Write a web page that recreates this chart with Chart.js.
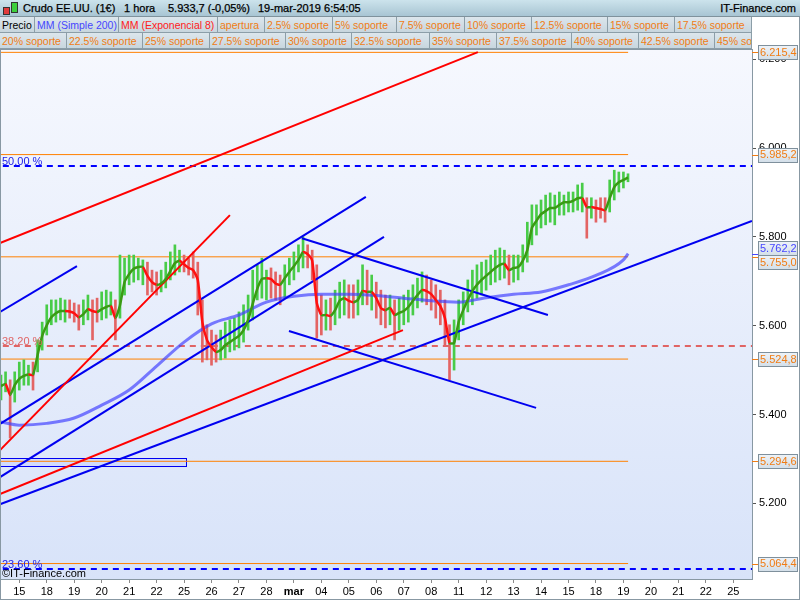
<!DOCTYPE html>
<html>
<head>
<meta charset="utf-8">
<script src="https://cdn.jsdelivr.net/npm/chart.js@4.4.1/dist/chart.umd.min.js"></script>
<style>
  body { margin: 0; background: #fff; font-family: "Liberation Sans", Arial, sans-serif; }
  #wrap { position: relative; width: 800px; height: 600px; overflow: hidden; }
  #chart { position: absolute; left: 0; top: 0; }
  #row1 { position: absolute; left: 0; top: 0; width: 800px; height: 17px; box-sizing: border-box;
          background: linear-gradient(#cce3ec, #a8c5d3); border-bottom: 1px solid #7f929c; font-size: 11px; }
  #row1 span { position: absolute; top: 2px; white-space: nowrap; color: #000; -webkit-text-stroke: 0.25px #000; }
  .cell { position: absolute; height: 16px; box-sizing: border-box; font-size: 10.5px; line-height: 14px;
          border-right: 1px solid #8c9ea8; border-bottom: 1px solid #8c9ea8;
          background: linear-gradient(#dce6ec, #c8d6de); padding: 1px 0 0 2px;
          white-space: nowrap; overflow: hidden; color: #f07c14; }
  .candle { position: absolute; width: 5px; border: 1px solid #333; }
</style>
</head>
<body>
<div id="wrap">
  <canvas id="chart" width="800" height="600"></canvas>
  <div id="row1">
    <div class="candle" style="left:3px;top:7px;height:6px;background:#e23b3b"></div>
    <div class="candle" style="left:11px;top:2px;height:9px;background:#3ccf3c"></div>
    <span style="left:23px">Crudo EE.UU. (1€)</span>
    <span style="left:124px">1 hora</span>
    <span style="left:168px">5.933,7 (-0,05%)</span>
    <span style="left:258px">19-mar-2019 6:54:05</span>
    <span style="right:4px">IT-Finance.com</span>
  </div>
  <div id="legend"></div>
</div>
<script>
// header cells: [left, right, text, colour]
const legendRow1 = [
  [0, 35, 'Precio', '#000'], [35, 119, 'MM (Simple 200)', '#4646ff'], [119, 218, 'MM (Exponencial 8)', '#ff2020'],
  [218, 265, 'apertura'], [265, 333, '2.5% soporte'], [333, 397, '5% soporte'], [397, 465, '7.5% soporte'],
  [465, 532, '10% soporte'], [532, 608, '12.5% soporte'], [608, 675, '15% soporte'], [675, 752, '17.5% soporte']
];
const legendRow2 = [
  [0, 67, '20% soporte'], [67, 143, '22.5% soporte'], [143, 210, '25% soporte'], [210, 286, '27.5% soporte'],
  [286, 352, '30% soporte'], [352, 430, '32.5% soporte'], [430, 497, '35% soporte'], [497, 572, '37.5% soporte'],
  [572, 639, '40% soporte'], [639, 715, '42.5% soporte'], [715, 752, '45% soporte']
];

// trading days on the time axis (index 0 = 15 feb)
const dayLabels = ['15','18','19','20','21','22','25','26','27','28','mar','04','05','06','07','08',
                   '11','12','13','14','15','18','19','20','21','22','25'];
const yTicks = [5200, 5400, 5600, 5800, 6000, 6200];

// price, sampled every 4 hours starting 14 feb afternoon
const ema = [
  5464, 5469, 5444, 5466,
  5480, 5487, 5490, 5489, 5534, 5577,
  5601, 5619, 5628, 5633, 5633, 5632,
  5628, 5619, 5626, 5637, 5633, 5631,
  5637, 5642, 5645, 5617, 5646, 5698,
  5716, 5728, 5732, 5732, 5712, 5698,
  5692, 5695, 5705, 5723, 5741, 5746,
  5738, 5730, 5725, 5703, 5608, 5568,
  5552, 5541, 5545, 5556, 5563, 5570,
  5577, 5590, 5613, 5649, 5683, 5705,
  5707, 5705, 5695, 5692, 5707, 5721,
  5734, 5748, 5766, 5761, 5746, 5651,
  5624, 5624, 5622, 5635, 5656, 5662,
  5656, 5653, 5658, 5678, 5676, 5676,
  5662, 5640, 5635, 5640, 5624, 5629,
  5633, 5642, 5656, 5669, 5680, 5678,
  5671, 5658, 5644, 5617, 5561, 5561,
  5608, 5635, 5658, 5678, 5692, 5703,
  5712, 5721, 5730, 5737, 5739, 5725,
  5730, 5732, 5746, 5770, 5820, 5836,
  5851, 5858, 5865, 5865, 5872, 5878,
  5878, 5881, 5887, 5887, 5867, 5867,
  5865, 5863, 5860, 5887, 5912, 5923,
  5928, 5933.7
];
const highs = [
  5489, 5496, 5478, 5496,
  5518, 5523, 5511, 5518, 5568, 5608,
  5647, 5658, 5658, 5662, 5658, 5658,
  5651, 5647, 5658, 5669, 5658, 5662,
  5676, 5680, 5676, 5658, 5759, 5752,
  5759, 5759, 5752, 5748, 5743, 5725,
  5721, 5725, 5743, 5766, 5782, 5770,
  5759, 5752, 5766, 5743, 5658, 5602,
  5590, 5579, 5590, 5608, 5613, 5617,
  5631, 5647, 5669, 5725, 5737, 5752,
  5725, 5730, 5721, 5714, 5737, 5752,
  5766, 5782, 5800, 5782, 5770, 5737,
  5669, 5658, 5662, 5680, 5698, 5703,
  5692, 5692, 5703, 5737, 5725, 5714,
  5698, 5680, 5669, 5669, 5658, 5662,
  5669, 5680, 5692, 5707, 5721, 5714,
  5703, 5692, 5680, 5658, 5602, 5613,
  5658, 5676, 5703, 5725, 5737, 5743,
  5748, 5759, 5770, 5775, 5770, 5759,
  5759, 5759, 5782, 5833, 5872, 5872,
  5883, 5894, 5899, 5894, 5901, 5894,
  5901, 5901, 5917, 5921, 5888, 5888,
  5883, 5888, 5888, 5928, 5950, 5946,
  5946, 5942
];
const lows = [
  5433, 5451, 5347, 5428,
  5455, 5466, 5466, 5455, 5496, 5545,
  5579, 5602, 5608, 5613, 5608, 5617,
  5608, 5590, 5602, 5613, 5568, 5608,
  5613, 5617, 5624, 5568, 5617, 5669,
  5692, 5698, 5703, 5692, 5669, 5676,
  5669, 5676, 5685, 5703, 5714, 5721,
  5721, 5714, 5707, 5624, 5518, 5523,
  5511, 5518, 5523, 5527, 5541, 5545,
  5550, 5563, 5590, 5613, 5658, 5662,
  5658, 5662, 5658, 5647, 5662, 5692,
  5703, 5721, 5730, 5730, 5703, 5572,
  5579, 5590, 5590, 5602, 5617, 5624,
  5617, 5617, 5624, 5647, 5647, 5635,
  5617, 5602, 5595, 5602, 5568, 5590,
  5602, 5608, 5624, 5640, 5653, 5647,
  5635, 5617, 5602, 5557, 5478, 5500,
  5568, 5602, 5631, 5647, 5662, 5669,
  5680, 5692, 5698, 5703, 5707, 5692,
  5698, 5703, 5721, 5743, 5782, 5804,
  5820, 5827, 5833, 5827, 5849, 5849,
  5856, 5856, 5860, 5856, 5797, 5842,
  5833, 5842, 5833, 5856, 5883, 5901,
  5910, 5924
];
const firstBar = -0.667;   // day index of the first sample
const barsPerDay = 6;

// simple moving average 200
const smaDays = [-0.67, 0, 1, 2, 3, 4, 5, 6, 7, 8, 9, 10, 11, 12, 13, 14, 15, 16, 17, 18, 19, 20, 21, 22, 22.17];
const smaValues = [5383, 5376, 5380, 5392, 5421, 5455, 5509, 5563, 5604, 5624, 5653, 5666, 5671, 5671,
                   5668, 5662, 5656, 5653, 5663, 5671, 5676, 5692, 5713, 5748, 5762.2];

const supports = [6215.4, 5985.2, 5755.0, 5524.8, 5294.6, 5064.4];
const lastDay = 22.17;
const fibValues = [5959.5, 5554, 5052];
const fibLabels = ['50,00 %', '38,20 %', '23,60 %'];

// drawn trend lines: [day1, price1, day2, price2]
const redLines = [
  [-0.70, 5786, 16.70, 6216],
  [-0.70, 5320, 7.67, 5849],
  [-0.70, 5221, 13.97, 5590]
];
const blueLines = [
  [-0.70, 5631, 2.10, 5734],
  [-0.70, 5379, 12.62, 5890],
  [-0.70, 5259, 13.28, 5800],
  [-0.70, 5198, 26.68, 5836],
  [10.29, 5797, 19.25, 5624],
  [9.82, 5588, 18.82, 5415]
];
const zoneBox = [-0.70, 6.07, 5284, 5302];

const lastValues = [6215.4, 5985.2, 5762.2, 5755.0, 5524.8, 5294.6, 5064.4];
const lastColours = ['#f07c14', '#f07c14', '#4646ff', '#f07c14', '#f07c14', '#f07c14', '#f07c14'];

// ---- header cells
const legend = document.getElementById('legend');
function addRow(cells, top) {
  cells.forEach(c => {
    const d = document.createElement('div');
    d.className = 'cell';
    d.style.left = c[0] + 'px';
    d.style.top = top + 'px';
    d.style.width = (c[1] - c[0]) + 'px';
    if (c[3]) d.style.color = c[3];
    d.textContent = c[2];
    legend.appendChild(d);
  });
}
addRow(legendRow1, 17);
addRow(legendRow2, 33);

// ---- chart
const fmt = v => String(v).replace(/\B(?=(\d{3})+(?!\d))/g, '.');
const fmtDec = v => fmt(Math.floor(v)) + ',' + Math.round((v % 1) * 10);
Chart.defaults.font.family = '"Liberation Sans", Arial, sans-serif';
Chart.defaults.font.size = 11;
Chart.defaults.color = '#000';

const GREEN = '#3a9a14', RED = '#ff1010';
const barTime = i => firstBar + i / barsPerDay;

const datasets = [];
datasets.push({
  type: 'line', label: 'ema', order: 1,
  data: ema.map((v, i) => ({ x: barTime(i), y: v })),
  borderWidth: 2.5, pointRadius: 0, tension: 0.2,
  segment: { borderColor: ctx => ctx.p1.parsed.y >= ctx.p0.parsed.y ? GREEN : RED }
});
redLines.concat(blueLines).forEach((l, k) => {
  datasets.push({
    type: 'line', order: 2, pointRadius: 0, borderWidth: 2,
    borderColor: k < redLines.length ? '#ff0000' : '#0000f0',
    data: [{ x: l[0], y: l[1] }, { x: l[2], y: l[3] }]
  });
});
datasets.push({
  type: 'line', label: 'sma', order: 3,
  data: smaDays.map((d, i) => ({ x: d, y: smaValues[i] })),
  borderColor: 'rgba(64,64,255,0.68)', borderWidth: 3, pointRadius: 0, cubicInterpolationMode: 'monotone'
});
datasets.push({
  type: 'bar', label: 'precio', order: 4,
  data: highs.map((h, i) => ({ x: barTime(i), y: [lows[i], h] })),
  barThickness: 2, grouped: false, borderWidth: 0,
  backgroundColor: ctx => (ctx.dataIndex > 0 && ema[ctx.dataIndex] < ema[ctx.dataIndex - 1]) ? '#e36464' : '#48cc48'
});
fibValues.forEach((v, k) => {
  datasets.push({
    type: 'line', order: 5, pointRadius: 0, borderWidth: 2, borderDash: [6, 5],
    borderColor: k === 1 ? '#e06464' : '#0000ff',
    data: [{ x: -1, y: v }, { x: 27, y: v }]
  });
});
supports.forEach(v => {
  datasets.push({
    type: 'line', order: 6, pointRadius: 0, borderWidth: 1, borderColor: '#ff8000',
    data: [{ x: -1, y: v }, { x: lastDay, y: v }]
  });
});

const decor = {
  id: 'decor',
  beforeDraw(c) {
    const { ctx, chartArea: a } = c;
    ctx.save();
    ctx.fillStyle = '#fff';
    ctx.fillRect(0, 0, c.width, c.height);
    const g = ctx.createLinearGradient(0, a.top, 0, a.bottom);
    g.addColorStop(0, '#f6f8fe');
    g.addColorStop(1, '#d8e3f9');
    ctx.fillStyle = g;
    ctx.fillRect(a.left, a.top, a.right - a.left, a.bottom - a.top);
    ctx.restore();
  },
  beforeDatasetsDraw(c) {
    const { ctx } = c, xs = c.scales.x, ys = c.scales.y;
    const x1 = xs.getPixelForValue(zoneBox[0]), x2 = xs.getPixelForValue(zoneBox[1]);
    const y1 = ys.getPixelForValue(zoneBox[3]), y2 = ys.getPixelForValue(zoneBox[2]);
    ctx.save();
    ctx.fillStyle = 'rgba(200,210,255,0.6)';
    ctx.fillRect(x1, y1, x2 - x1, y2 - y1);
    ctx.strokeStyle = '#0000f0';
    ctx.lineWidth = 1;
    ctx.strokeRect(Math.round(x1) + 0.5, Math.round(y1) + 0.5, Math.round(x2 - x1), Math.round(y2 - y1));
    ctx.restore();
  },
  afterDatasetsDraw(c) {
    const { ctx, chartArea: a } = c, ys = c.scales.y;
    ctx.save();
    ctx.font = '11px "Liberation Sans", Arial, sans-serif';
    ctx.textBaseline = 'bottom';
    fibValues.forEach((v, k) => {
      ctx.fillStyle = k === 1 ? '#e06464' : '#2020e8';
      ctx.fillText(fibLabels[k], a.left + 1, ys.getPixelForValue(v) + 1);
    });
    ctx.fillStyle = '#000';
    ctx.textBaseline = 'middle';
    ctx.fillText('©IT-Finance.com', a.left + 1, a.bottom - 5);
    ctx.restore();
  },
  afterDraw(c) {
    const { ctx, chartArea: a } = c, ys = c.scales.y;
    ctx.save();
    ctx.strokeStyle = '#8898a3';
    ctx.lineWidth = 1;
    ctx.strokeRect(a.left - 0.5, a.top - 0.5, a.right - a.left + 1, a.bottom - a.top + 1);
    ctx.strokeRect(0.5, 0.5, c.width - 1, c.height - 1);
    // last value boxes on the price axis
    const h = 14;
    const items = lastValues.map((v, k) => ({ v, k, y: ys.getPixelForValue(v), c: ys.getPixelForValue(v) }));
    for (let i = 1; i < items.length; i++) {
      const gap = items[i].c - items[i - 1].c;
      if (gap < h) {
        const push = (h - gap) / 2;
        items[i - 1].c -= push;
        items[i].c += push;
      }
    }
    ctx.font = '11px "Liberation Sans", Arial, sans-serif';
    ctx.textBaseline = 'middle';
    items.forEach(it => {
      const col = lastColours[it.k];
      ctx.strokeStyle = col;
      ctx.beginPath();
      ctx.moveTo(a.right, Math.round(it.y) + 0.5);
      ctx.lineTo(a.right + 6, Math.round(it.y) + 0.5);
      ctx.stroke();
      const top = Math.round(it.c - h / 2) + 0.5;
      const g = ctx.createLinearGradient(0, top, 0, top + h);
      g.addColorStop(0, '#eef3f8');
      g.addColorStop(1, '#d3dfe9');
      ctx.fillStyle = g;
      ctx.fillRect(a.right + 6.5, top, 39, h);
      ctx.strokeStyle = '#7f909c';
      ctx.strokeRect(a.right + 6.5, top, 39, h);
      ctx.fillStyle = col;
      ctx.fillText(fmtDec(it.v), a.right + 8, it.c + 0.5);
    });
    ctx.restore();
  }
};

new Chart(document.getElementById('chart'), {
  type: 'line',
  data: { datasets },
  options: {
    responsive: false,
    animation: false,
    devicePixelRatio: 1,
    layout: { padding: { top: 50, left: 1, right: 0, bottom: 0 } },
    plugins: { legend: { display: false }, tooltip: { enabled: false } },
    scales: {
      x: {
        type: 'linear', position: 'bottom', min: -0.6664, max: 26.682, offset: false,
        border: { display: false },
        grid: { offset: false, drawOnChartArea: false, drawTicks: true, tickLength: 4, color: '#8a8a8a' },
        afterBuildTicks: s => { s.ticks = dayLabels.map((_, i) => ({ value: i })); },
        afterFit: s => { s.height = 21; },
        ticks: {
          autoSkip: false, maxRotation: 0, padding: 2, color: '#000',
          callback: v => dayLabels[v],
          font: ctx => ({ size: 11, family: '"Liberation Sans", Arial, sans-serif',
                          weight: ctx.tick && dayLabels[ctx.tick.value] === 'mar' ? 'bold' : 'normal' })
        }
      },
      y: {
        type: 'linear', position: 'right', min: 5029.6, max: 6220.7,
        border: { display: false },
        grid: { drawOnChartArea: false, drawTicks: true, tickLength: 4, color: '#555' },
        afterBuildTicks: s => { s.ticks = yTicks.map(v => ({ value: v })); },
        afterFit: s => { s.width = 48; },
        ticks: { padding: 3, color: '#000', callback: v => fmt(v), font: { size: 11 } }
      }
    }
  },
  plugins: [decor]
});
</script>
</body>
</html>
